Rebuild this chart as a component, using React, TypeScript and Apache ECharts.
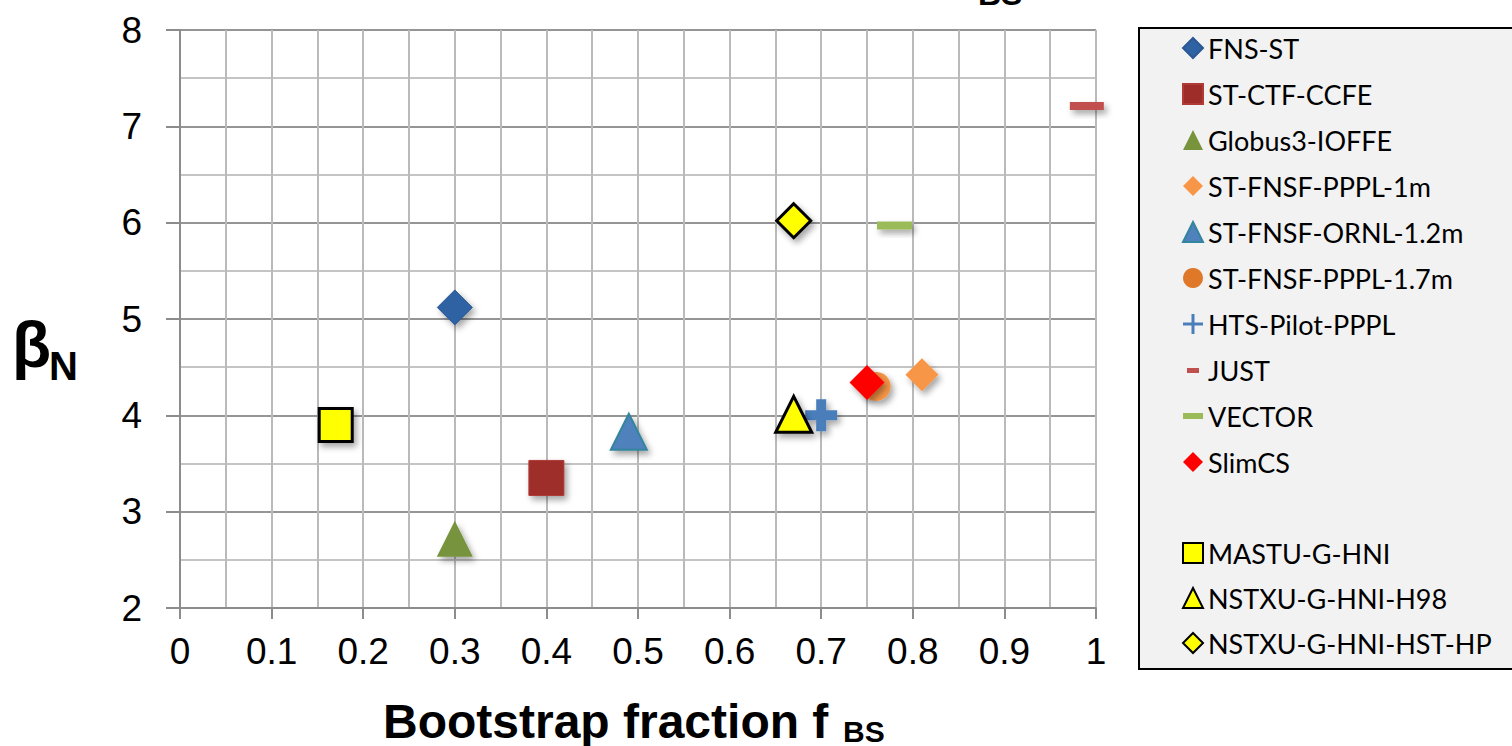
import React, { useEffect, useRef } from "react";
import * as echarts from "echarts";

// ---- data ----
const seriesNames = [
  "FNS-ST",
  "ST-CTF-CCFE",
  "Globus3-IOFFE",
  "ST-FNSF-PPPL-1m",
  "ST-FNSF-ORNL-1.2m",
  "ST-FNSF-PPPL-1.7m",
  "HTS-Pilot-PPPL",
  "JUST",
  "VECTOR",
  "SlimCS",
  "MASTU-G-HNI",
  "NSTXU-G-HNI-H98",
  "NSTXU-G-HNI-HST-HP",
];
const bootstrapFraction = [0.3, 0.4, 0.3, 0.81, 0.49, 0.76, 0.7, 0.99, 0.78, 0.75, 0.17, 0.67, 0.67];
const betaN = [5.12, 3.35, 2.72, 4.42, 3.83, 4.3, 4.0, 7.21, 5.97, 4.34, 3.9, 4.01, 6.02];
const xTicks = [0, 0.1, 0.2, 0.3, 0.4, 0.5, 0.6, 0.7, 0.8, 0.9, 1];
const yTicks = [2, 3, 4, 5, 6, 7, 8];

const CROSS = "path://M11,0h10v11h11v10h-11v11h-10v-11h-11v-10h11z";
const THIN_CROSS = "path://M8.5,0h3v8.5h8.5v3h-8.5v8.5h-3v-8.5h-8.5v-3h8.5z";
const DASH = "path://M0,0h20v6h-20z";
const SMALL_DASH = "path://M0,0h0.01v0.01h-0.01z M4,8h12v5h-12z M19.99,19.99h0.01v0.01h-0.01z";

type Style = {
  symbol: string;
  size: number | number[];
  color: string;
  border?: string;
  borderWidth?: number;
  legendIcon?: string;
  legendColor?: string;
};

const styles: Style[] = [
  { symbol: "diamond", size: 35, color: "#2f62a2", border: "#2a5894", borderWidth: 1 },
  { symbol: "rect", size: 35, color: "#9e2d2a", border: "#b03a36", borderWidth: 1 },
  { symbol: "triangle", size: 36, color: "#77933c" },
  { symbol: "diamond", size: 33, color: "#f79646" },
  { symbol: "triangle", size: 36, color: "#4f81bd", border: "#31859c", borderWidth: 2 },
  { symbol: "circle", size: 29, color: "#f79646", legendColor: "#e0782a" },
  { symbol: CROSS, size: 32, color: "#4a7ebb", legendIcon: THIN_CROSS },
  { symbol: "rect", size: [34, 8], color: "#c0504d", legendIcon: SMALL_DASH },
  { symbol: "rect", size: [35, 8], color: "#9bbb59", legendIcon: DASH },
  { symbol: "diamond", size: 35, color: "#ff0000" },
  { symbol: "rect", size: 33, color: "#ffff00", border: "#000000", borderWidth: 3 },
  { symbol: "triangle", size: 36, color: "#ffff00", border: "#000000", borderWidth: 3 },
  { symbol: "diamond", size: 34, color: "#ffff00", border: "#000000", borderWidth: 3 },
];

const SANS = "'Liberation Sans', Arial, sans-serif";

export default function App() {
  const ref = useRef<HTMLDivElement>(null);

  useEffect(() => {
    if (!ref.current) return;
    const chart = echarts.init(ref.current, null, { renderer: "svg" });

    const series = seriesNames.map((name, i) => {
      const s = styles[i];
      return {
        name,
        type: "scatter",
        symbol: s.symbol,
        symbolSize: s.size,
        data: [[bootstrapFraction[i], betaN[i]]],
        itemStyle: {
          color: s.color,
          borderColor: s.border ?? s.color,
          borderWidth: s.borderWidth ?? 0,
          shadowBlur: 6,
          shadowOffsetX: 3,
          shadowOffsetY: 4,
          shadowColor: "rgba(0,0,0,0.35)",
          opacity: 1,
        },
        emphasis: { disabled: true },
        z: 2 + i * 0.01,
      };
    });

    const legendData = (names: string[]) =>
      names.map((name) => {
        const i = seriesNames.indexOf(name);
        const s = styles[i];
        const d: any = { name };
        if (s.legendIcon) d.icon = s.legendIcon;
        if (s.legendColor) d.itemStyle = { color: s.legendColor };
        return d;
      });

    const legendCommon = {
      orient: "vertical",
      left: 1177,
      itemWidth: 20,
      itemHeight: 20,
      selectedMode: false,
      itemStyle: { shadowBlur: 0, shadowColor: "rgba(0,0,0,0)", shadowOffsetX: 0, shadowOffsetY: 0 },
      textStyle: { fontFamily: "Lato, 'Open Sans', sans-serif", fontSize: 27, color: "#000", lineHeight: 30 },
      z: 5,
    };

    chart.setOption({
      animation: false,
      backgroundColor: "#ffffff",
      grid: { left: 180, right: 416, top: 30, bottom: 138 },
      xAxis: {
        type: "value",
        min: xTicks[0],
        max: xTicks[xTicks.length - 1],
        interval: 0.1,
        axisLine: { show: true, lineStyle: { color: "#8c8c8c", width: 2 } },
        axisTick: { show: true, length: 11, lineStyle: { color: "#8c8c8c", width: 2 } },
        minorTick: { show: false, splitNumber: 2 },
        splitLine: { show: true, lineStyle: { color: "#bababa", width: 2 } },
        minorSplitLine: { show: true, lineStyle: { color: "#bababa", width: 2 } },
        axisLabel: {
          margin: 25,
          fontFamily: SANS,
          fontSize: 37,
          color: "#000",
          formatter: (v: number) => {
            const r = Math.round(v * 10) / 10;
            return r === 0 || r === 1 ? String(r) : r.toFixed(1);
          },
        },
      },
      yAxis: {
        type: "value",
        min: yTicks[0],
        max: yTicks[yTicks.length - 1],
        interval: 1,
        axisLine: { show: true, lineStyle: { color: "#8c8c8c", width: 2 } },
        axisTick: { show: true, length: 14, lineStyle: { color: "#8c8c8c", width: 2 } },
        minorTick: { show: false, splitNumber: 2 },
        splitLine: { show: true, lineStyle: { color: "#959595", width: 2 } },
        minorSplitLine: { show: true, lineStyle: { color: "#c4c4c4", width: 2 } },
        axisLabel: { margin: 38, fontFamily: SANS, fontSize: 37, color: "#000" },
      },
      legend: [
        { ...legendCommon, top: 28, itemGap: 16, data: legendData(seriesNames.slice(0, 10)) },
        { ...legendCommon, top: 533, itemGap: 15, data: legendData(seriesNames.slice(10)) },
      ],
      graphic: [
        {
          type: "rect",
          left: 1138,
          top: 27,
          z: -1,
          shape: { width: 400, height: 641 },
          style: { fill: "#f2f2f2", stroke: "#000", lineWidth: 2 },
        },
        {
          type: "text",
          x: 383,
          y: 721,
          style: {
            text: "Bootstrap fraction f",
            font: `bold 48px ${SANS}`,
            fill: "#000",
            align: "left",
            verticalAlign: "middle",
          },
        },
        {
          type: "text",
          x: 843,
          y: 731,
          style: { text: "BS", font: `bold 30px ${SANS}`, fill: "#000", align: "left", verticalAlign: "middle" },
        },
        {
          type: "text",
          x: 12,
          y: 345,
          style: { text: "β", font: `bold 64px ${SANS}`, fill: "#000", align: "left", verticalAlign: "middle" },
        },
        {
          type: "text",
          x: 49,
          y: 366,
          style: { text: "N", font: `bold 40px ${SANS}`, fill: "#000", align: "left", verticalAlign: "middle" },
        },
        {
          type: "text",
          x: 978,
          y: -6,
          style: { text: "BS", font: `bold 32px ${SANS}`, fill: "#000", align: "left", verticalAlign: "middle" },
        },
      ],
      series,
    });

    return () => chart.dispose();
  }, []);

  return (
    <div style={{ position: "fixed", left: 0, top: 0, width: 1512, height: 746, background: "#fff" }}>
      <div ref={ref} style={{ width: 1512, height: 746 }} />
    </div>
  );
}
